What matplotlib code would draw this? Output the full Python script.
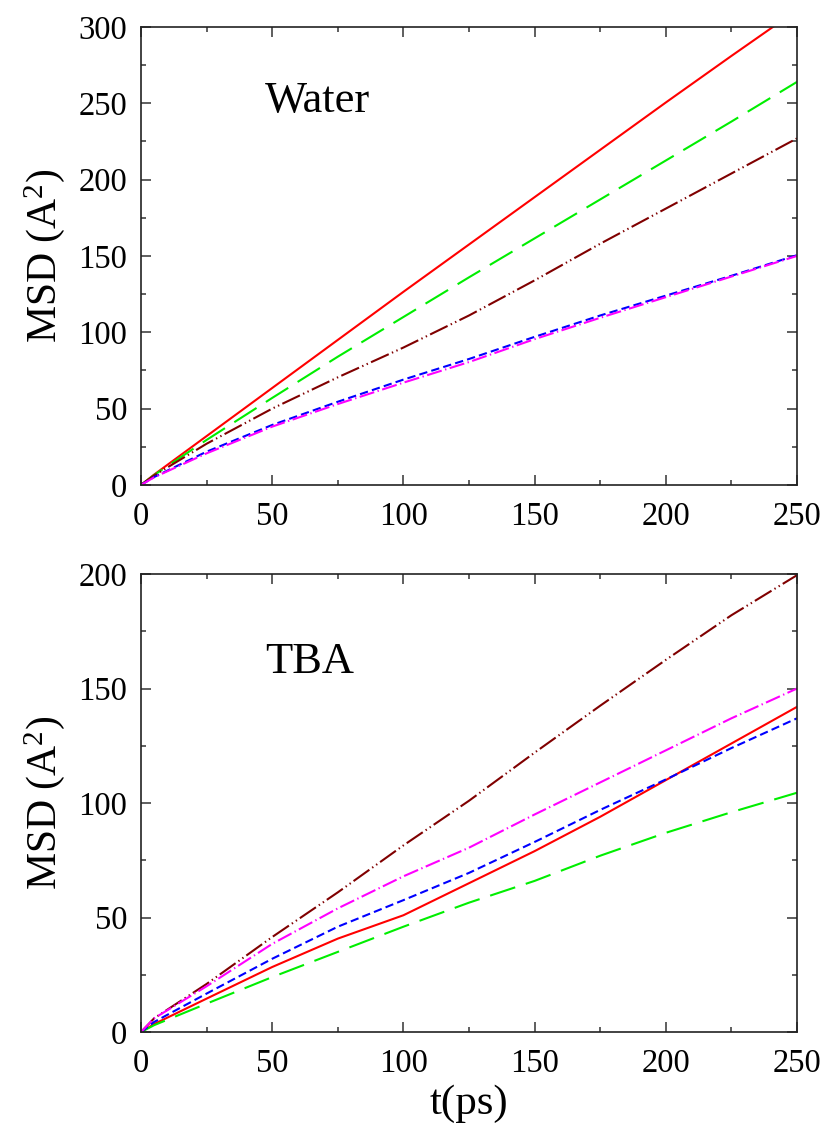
import matplotlib
matplotlib.use("Agg")
import matplotlib.pyplot as plt
from matplotlib.ticker import MultipleLocator

plt.rcParams['font.family'] = ['Liberation Serif', 'DejaVu Serif']
plt.rcParams['mathtext.fontset'] = 'custom'
plt.rcParams['mathtext.rm'] = 'Liberation Serif'
plt.rcParams['mathtext.it'] = 'Liberation Serif:italic'
plt.rcParams['lines.scale_dashes'] = False

# time axis (ps)
t = [0, 5, 25, 50, 75, 100, 125, 150, 175, 200, 225, 250]

# MSD in water (A^2)
water_red = [0, 6.8, 32, 63.5, 95, 126.5, 157.5, 188.5, 219.5, 250.5, 281, 311]
water_green = [0, 6.5, 29.5, 57, 84, 110, 136, 161.5, 187, 212.5, 238, 264]
water_brown = [0, 6.2, 27, 50, 70.5, 90, 111, 134, 158, 181, 204, 227]
water_blue = [0, 5.2, 21.8, 39.3, 54.5, 69, 82.5, 97, 111, 124, 137, 150.5]
water_magenta = [0, 5.0, 20.7, 38.2, 53, 67, 80.5, 95.5, 109.5, 123, 136.5, 150]

# MSD in TBA (A^2)
tba_red = [0, 3.5, 14.6, 28.4, 40.8, 51, 65, 79, 94, 110, 126, 142]
tba_green = [0, 3.0, 12.4, 24, 35, 46, 56.5, 66, 77, 87, 96, 104.5]
tba_brown = [0, 6.0, 21, 41.5, 61, 81.5, 101, 122, 142.5, 162.5, 182, 199.5]
tba_blue = [0, 4.4, 16.8, 32, 46, 57.6, 69.5, 83, 97, 110.3, 124, 137]
tba_magenta = [0, 6.0, 20, 38.5, 54, 68, 80.5, 95, 109, 123, 137, 150]

styles = {
    'red': dict(color='#ff0000', linestyle='-'),
    'green': dict(color='#00ee00', linestyle=(0, (19, 8))),
    'brown': dict(color='#800000', linestyle=(0, (14, 2.5, 1, 2.5, 1, 2.5))),
    'blue': dict(color='#0000ff', linestyle=(0, (6, 3))),
    'magenta': dict(color='#ff00ff', linestyle=(0, (11, 2.5, 1, 2.5))),
}

fig = plt.figure(figsize=(8.26, 11.36), dpi=100)
ax1 = fig.add_axes([0.1707, 0.5731, 0.7942, 0.4032])
ax2 = fig.add_axes([0.1707, 0.0915, 0.7942, 0.4032])

panels = [
    (ax1, [water_red, water_green, water_brown, water_blue, water_magenta], 300, 'Water', 0.814),
    (ax2, [tba_red, tba_green, tba_brown, tba_blue, tba_magenta], 200, 'TBA', 0.784),
]

for ax, series, ymax, name, ty in panels:
    for key, y in zip(['red', 'green', 'brown', 'blue', 'magenta'], series):
        ax.plot(t, y, lw=1.5, **styles[key])
    ax.set_xlim(0, 250)
    ax.set_ylim(0, ymax)
    ax.xaxis.set_major_locator(MultipleLocator(50))
    ax.xaxis.set_minor_locator(MultipleLocator(25))
    ax.yaxis.set_major_locator(MultipleLocator(50))
    ax.yaxis.set_minor_locator(MultipleLocator(25))
    ax.tick_params(which='both', direction='in', top=True, right=True,
                   labelsize=23.5, color='#333333', width=1.1)
    ax.tick_params(which='major', length=7)
    ax.tick_params(which='minor', length=3.6)
    ax.tick_params(axis='x', which='major', pad=12)
    ax.tick_params(axis='y', which='major', pad=10)
    for sp in ax.spines.values():
        sp.set_linewidth(1.2)
        sp.set_color('#222222')
    ax.set_ylabel('MSD (A$^{2}$)', fontsize=30, labelpad=8)
    ax.text(0.189, ty, name, transform=ax.transAxes, fontsize=32,
            ha='left', va='baseline')

ax2.set_xlabel('t(ps)', fontsize=31, labelpad=4)

fig.savefig('out.png', dpi=100)
